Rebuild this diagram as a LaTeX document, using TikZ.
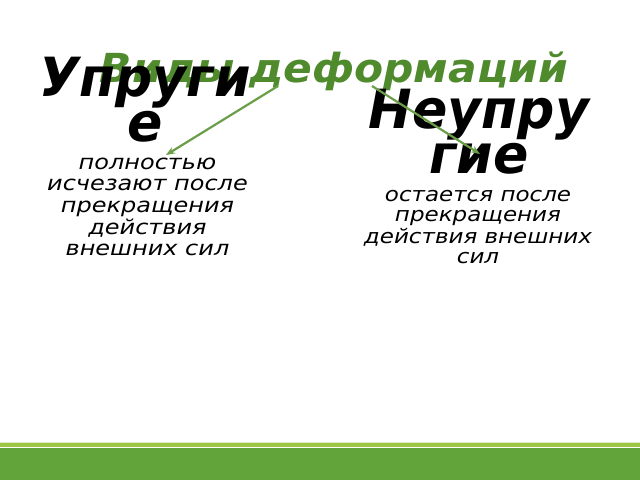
\documentclass[tikz,border=0pt]{standalone}
\usepackage{fontspec}
\usepackage{graphicx}
\setmainfont{DejaVu Sans}
\usetikzlibrary{arrows.meta}
\definecolor{titlegreen}{HTML}{4F8A2C}
\definecolor{arrowgreen}{HTML}{6A9E48}
\definecolor{arrowshadow}{HTML}{B9C8AE}
\definecolor{bargreen}{HTML}{63A43A}
\definecolor{stripegreen}{HTML}{9EC844}
\definecolor{paleline}{HTML}{DDEBC4}
\newcommand{\stretchlines}[2]{\scalebox{#1}[1]{\begin{tabular}[t]{@{}c@{}}#2\end{tabular}}}
\tikzset{
  heading/.style={inner sep=0pt, anchor=base, font=\fontsize{54}{45}\selectfont\bfseries\itshape},
  bodyleft/.style={inner sep=0pt, anchor=base, font=\fontsize{20.5}{21.5}\selectfont\itshape},
  bodyright/.style={inner sep=0pt, anchor=base, font=\fontsize{20}{20.7}\selectfont\itshape},
  titletext/.style={inner sep=0pt, anchor=base, text=titlegreen, font=\fontsize{40}{44}\selectfont\bfseries\itshape},
  connector/.style={draw=arrowgreen, line width=2.2pt, -{Stealth[length=9pt,width=7pt]}},
  connectorshadow/.style={draw=arrowshadow, line width=2.2pt, -{Stealth[length=9pt,width=7pt]}}
}
\begin{document}
\begin{tikzpicture}[x=1pt,y=-1pt]
\useasboundingbox (0,0) rectangle (640,480);
\fill[white] (0,0) rectangle (640,480);
% bottom bars
\fill[paleline] (0,441.5) rectangle (640,443);
\fill[stripegreen] (0,443) rectangle (640,446.8);
\fill[bargreen] (0,447.6) rectangle (640,480);
% title
\node[titletext] (title) at (334,82) {\scalebox{1.06}[1]{Виды деформаций}};
% headings
\node[heading] (elastic) at (145,96) {\stretchlines{0.965}{Упруги\\е}};
\node[heading] (inelastic) at (479,128) {\stretchlines{0.965}{Неупру\\гие}};
% descriptions
\node[bodyleft] (elasticdesc) at (147.5,169) {\stretchlines{1.17}{полностью\\исчезают после\\прекращения\\действия\\внешних сил}};
\node[bodyright] (inelasticdesc) at (478,201) {\stretchlines{1.15}{остается после\\прекращения\\действия внешних\\сил}};
% connectors
\coordinate (lstart) at (278,86);
\coordinate (lend) at (166,155);
\coordinate (rstart) at (372,86);
\coordinate (rend) at (480,154);
\draw[connector] (lstart) -- (lend);
\draw[connector] (rstart) -- (rend);
\end{tikzpicture}
\end{document}
